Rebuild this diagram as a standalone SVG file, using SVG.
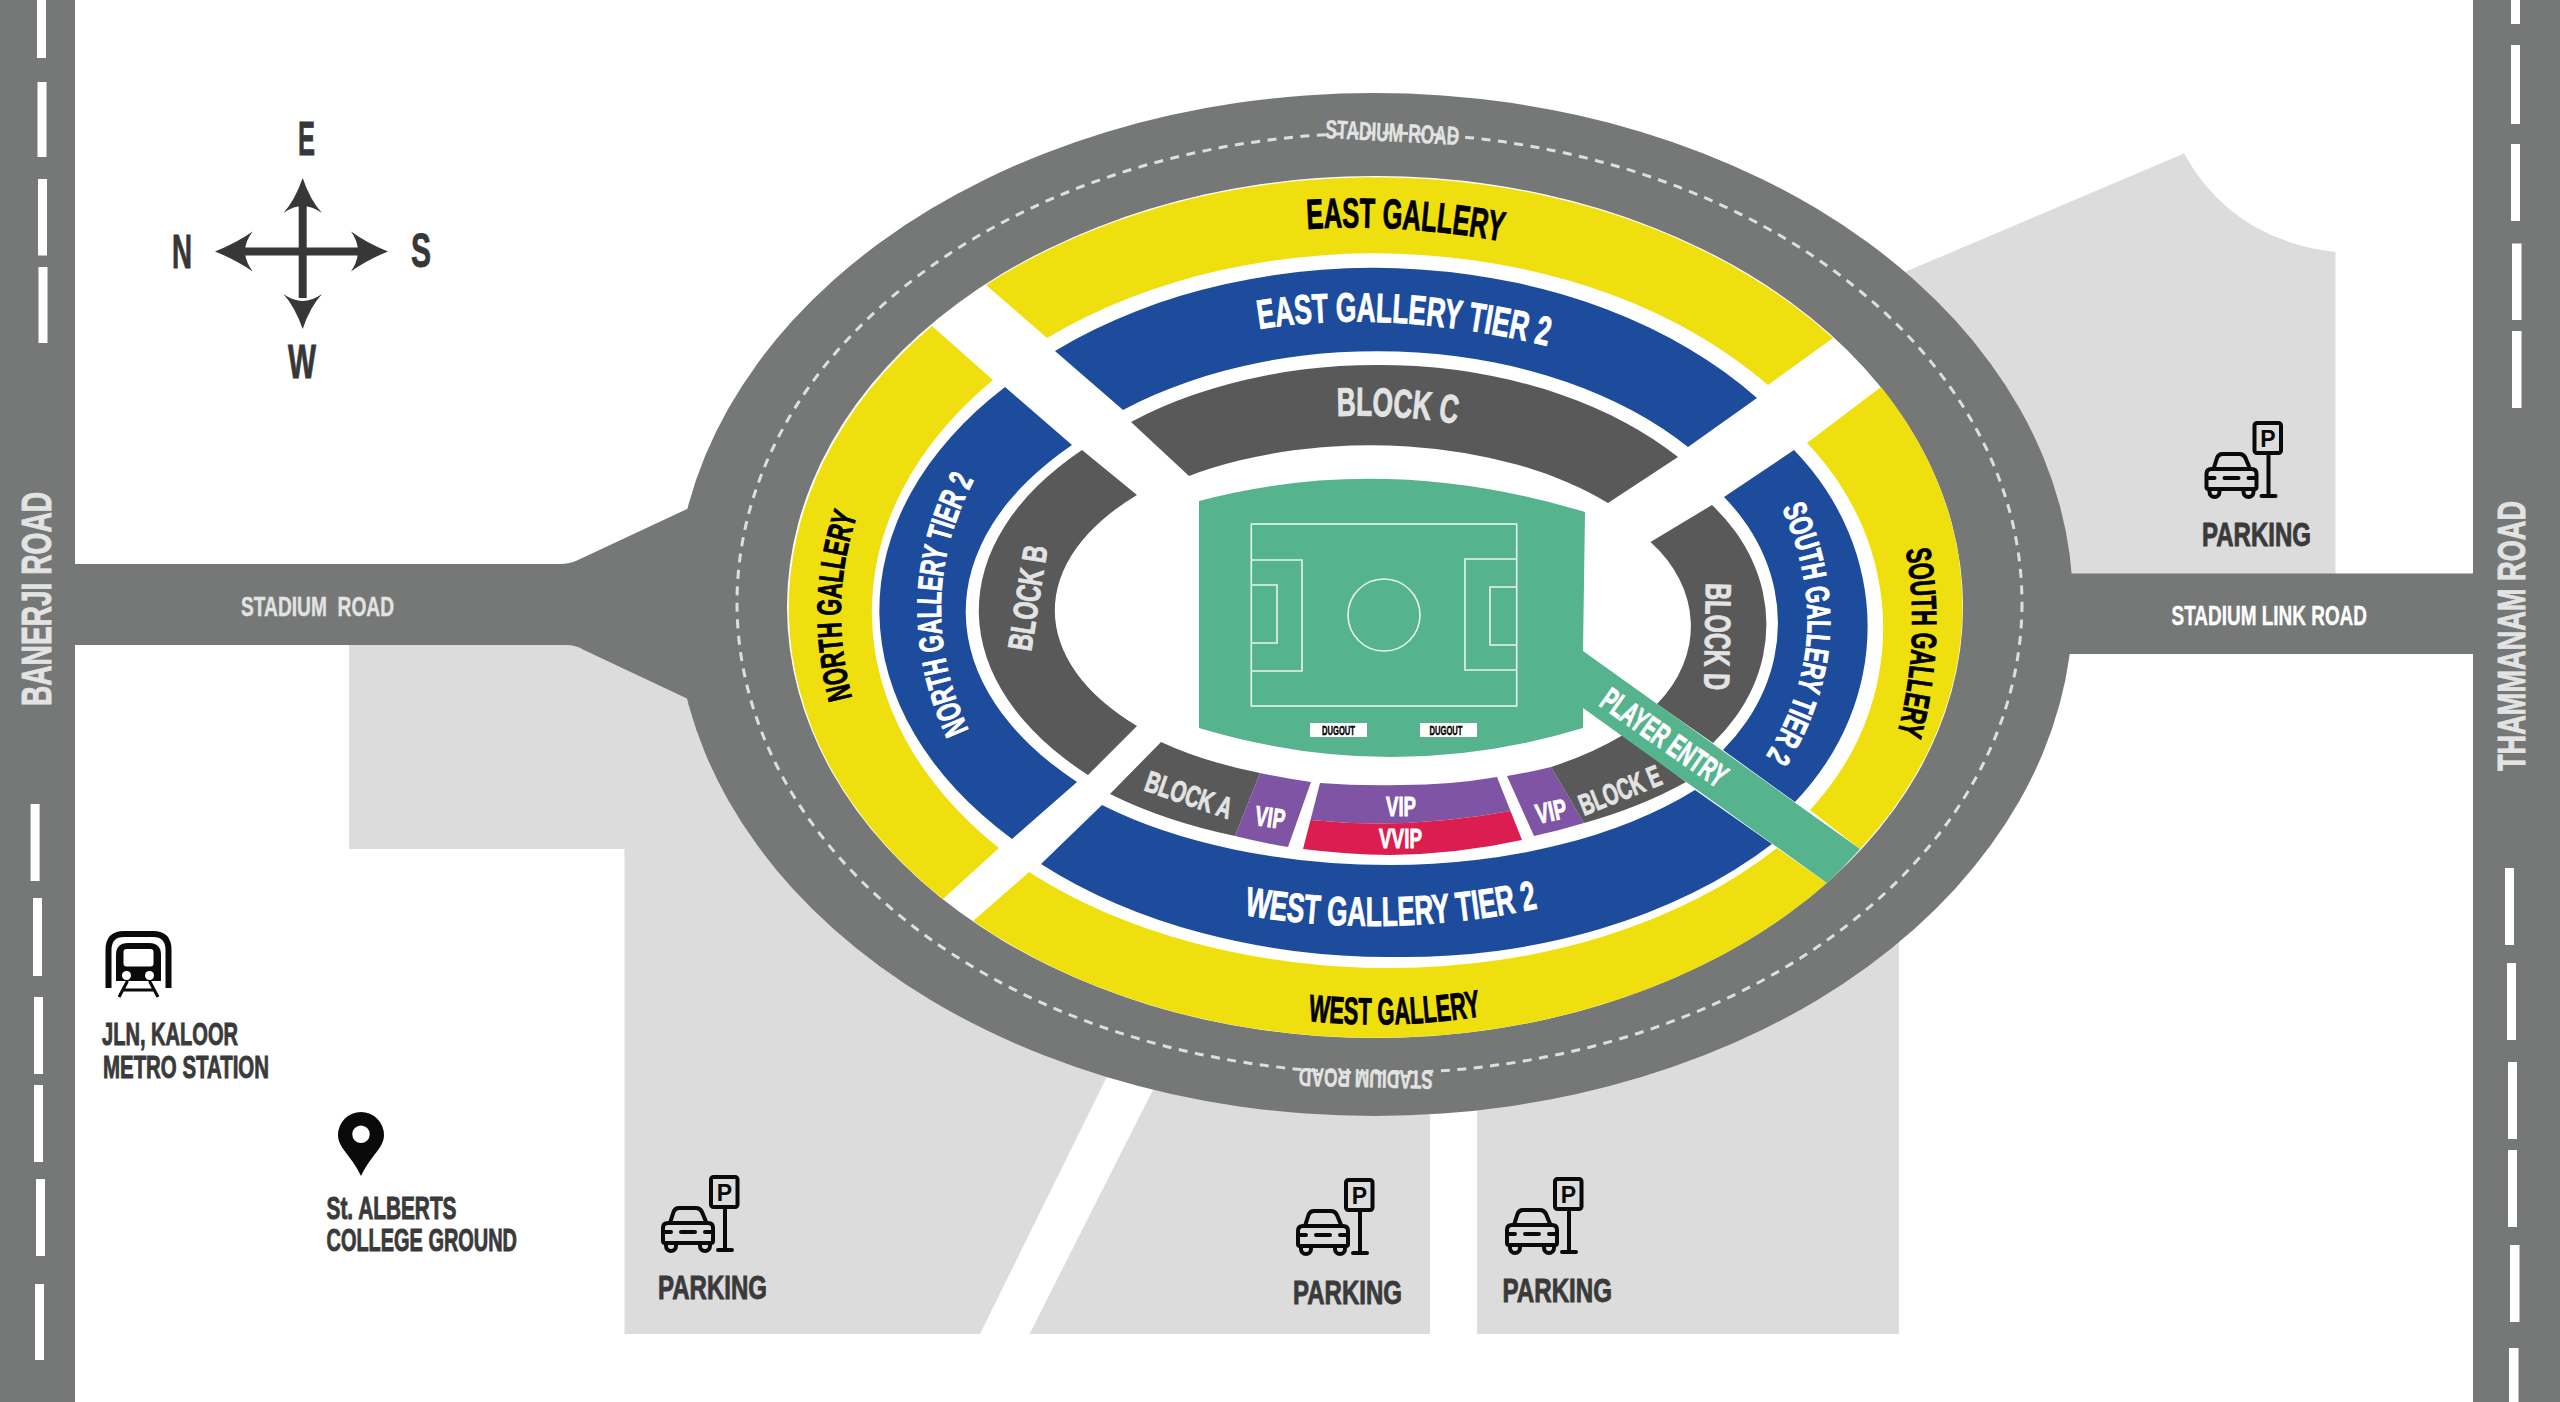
<svg xmlns="http://www.w3.org/2000/svg" width="2560" height="1402" viewBox="0 0 2560 1402">
<style>
text{font-family:"Liberation Sans Narrow","Liberation Sans",Arial,sans-serif;font-weight:700;stroke-width:.9}
.pk{fill:#dcdcdc}.rd{fill:#767877}.dash{fill:#fff}
.y{fill:#f0df0f}.b{fill:#1d4c9c}.d{fill:#585958}.g{fill:#55b38e}.v{fill:#7f54a4}.c{fill:#db1d50}
.tb{fill:#000;stroke:#000}.tw{fill:#fff;stroke:#fff}.tl{fill:#e3e3e3;stroke:#e3e3e3}.ti{fill:#3a3a3a;stroke:#3a3a3a}
.small{stroke-width:.4}
.ln{fill:none;stroke:#e8f4ee;stroke-width:1.6}
.ic{fill:none;stroke:#0a0a0a;stroke-width:4;stroke-linecap:round;stroke-linejoin:round}
</style>
<defs>
<path id="p-east" d="M1307 229Q1403 223 1505 242"/>
<path id="p-east2" d="M1259 329Q1390 308 1552 347"/>
<path id="p-c" d="M1337 416Q1397 414 1457 424"/>
<path id="p-west" d="M1308 1021Q1395 1030 1482 1016"/>
<path id="p-west2" d="M1244 915Q1390 940 1539 908"/>
<path id="p-north" d="M853 702Q826 600 859 510"/>
<path id="p-north2" d="M970 733Q908 600 978 472"/>
<path id="p-south" d="M1905 546Q1923 640 1896 739"/>
<path id="p-south2" d="M1778 500Q1845 640 1760 765"/>
<symbol id="parking-icon" overflow="visible" width="78" height="77">
<rect class="ic" x="49" y="2" width="26.5" height="30" rx="2.5"/>
<path class="ic" d="M63 34V75M56 75H70"/>
<path class="ic" d="M8 48L11.500 37Q13 33 17 33H34Q38 33 40 37L44.500 48"/>
<path class="ic" d="M6 48H46Q51 48 51 53V66Q51 68 49 68H3Q1 68 1 66V53Q1 48 6 48Z"/>
<path class="ic" d="M4 68V71A5 5 0 0 0 14 71V68M38 68V71A5 5 0 0 0 48 71V68M2 57H9M43 57H50M19 57H33"/>
<text x="62.500" y="25.700" font-size="23" text-anchor="middle" fill="#0a0a0a">P</text>
</symbol>
</defs>
<rect width="2560" height="1402" fill="#fff"/>
<g id="parking-areas">
<polygon class="pk" points="349,645 690,645 1125,1040 980,1334 624.500,1334 624.500,849 349,849"/>
<polygon class="pk" points="1029.500,1334 1165,1066 1430,1066 1430,1334"/>
<polygon class="pk" points="1477,1334 1477,1090 1899,900 1899,1334"/>
<path class="pk" d="M1860 291L2184 153.500Q2232 240 2335.500 252V574H1900Z"/>
</g>
<g id="connectors">
<rect class="rd" x="0" y="0" width="75" height="1402"/>
<rect class="rd" x="2473" y="0" width="87" height="1402"/>
<path class="rd" d="M75 564H560Q570 564 578 560L687 509L760 600L688 699L584 650Q576 645 566 645H75Z"/>
<rect class="rd" x="1950" y="573.500" width="530" height="80.500"/>
<ellipse id="ring-road" class="rd" cx="1374" cy="604.500" rx="699" ry="511.500"/>
<ellipse id="ring-road-centreline" cx="1379.500" cy="603" rx="642.500" ry="470" fill="none" stroke="#dedede" stroke-width="3" stroke-dasharray="9 7.500"/>
<g id="road-marks-west">
<rect class="dash" x="37" y="0" width="9" height="58"/><rect class="dash" x="37.500" y="82" width="9" height="75"/><rect class="dash" x="38" y="179" width="9" height="76.500"/><rect class="dash" x="38.500" y="267" width="9" height="76"/>
<rect class="dash" x="30.600" y="804" width="9" height="77"/><rect class="dash" x="33" y="898" width="9" height="78"/><rect class="dash" x="34" y="997" width="9" height="77"/><rect class="dash" x="34" y="1085" width="9" height="77"/><rect class="dash" x="36" y="1179" width="9" height="77"/><rect class="dash" x="35" y="1284" width="9" height="76"/>
</g>
<g id="road-marks-east">
<rect class="dash" x="2511" y="0" width="9" height="24"/><rect class="dash" x="2511" y="45" width="9" height="79"/><rect class="dash" x="2511" y="144" width="9" height="77"/><rect class="dash" x="2512" y="243.500" width="9.500" height="76.500"/><rect class="dash" x="2512" y="331" width="9.500" height="77"/>
<rect class="dash" x="2505" y="868" width="9" height="77"/><rect class="dash" x="2507" y="963" width="9" height="77"/><rect class="dash" x="2508" y="1062" width="9" height="77"/><rect class="dash" x="2508" y="1150" width="9" height="77"/><rect class="dash" x="2510" y="1245" width="9.500" height="77"/><rect class="dash" x="2509" y="1348" width="9.500" height="54"/>
</g>
<text class="tl" transform="translate(51 706) rotate(-90)" font-size="43" textLength="214" lengthAdjust="spacingAndGlyphs">BANERJI ROAD</text>
<text class="tl" transform="translate(2525 771) rotate(-90)" font-size="39" textLength="270" lengthAdjust="spacingAndGlyphs">THAMMANAM ROAD</text>
<text class="tl small" x="241" y="615.500" font-size="27" textLength="153" lengthAdjust="spacingAndGlyphs" xml:space="preserve">STADIUM  ROAD</text>
<text class="tw small" x="2171.500" y="625" font-size="28" textLength="195.500" lengthAdjust="spacingAndGlyphs">STADIUM LINK ROAD</text>
<text class="tl small" transform="translate(1325 138) rotate(3)" font-size="26" textLength="134" lengthAdjust="spacingAndGlyphs">STADIUM ROAD</text>
<text class="tl small" transform="translate(1433 1071) rotate(181.300)" font-size="26" textLength="134" lengthAdjust="spacingAndGlyphs">STADIUM ROAD</text>
</g>
<ellipse id="stadium-ground" cx="1375" cy="607" rx="588" ry="431" fill="#fff"/>
<g id="east-gallery"><path class="y" d="M986 285A588 431 0 0 1 1833 338L1768 385A507 357 0 0 0 1047 338Z"/><text class="tb" font-size="42"><textPath href="#p-east" textLength="196" lengthAdjust="spacingAndGlyphs">EAST GALLERY</textPath></text></g>
<g id="east-gallery-tier-2"><path class="b" d="M1055 351A490 345.500 0 0 1 1757 398L1688 447A400 258.500 0 0 0 1123 410Z"/><text class="tw" font-size="41"><textPath href="#p-east2" textLength="291" lengthAdjust="spacingAndGlyphs">EAST GALLERY TIER 2</textPath></text></g>
<g id="block-c"><path class="d" d="M1131 422A385 246 0 0 1 1678 457L1608 503A317 171 0 0 0 1189 476Z"/><text class="tl" font-size="40"><textPath href="#p-c" textLength="120" lengthAdjust="spacingAndGlyphs">BLOCK C</textPath></text></g>
<g id="north-gallery"><path class="y" d="M943 899A588 431 0 0 1 932 326L993 380A507 357 0 0 0 999 848Z"/><text class="tb" font-size="34"><textPath href="#p-north" textLength="186" startOffset="4" lengthAdjust="spacingAndGlyphs">NORTH GALLERY</textPath></text></g>
<g id="north-gallery-tier-2"><path class="b" d="M1012 839A530 345.500 0 0 1 1005 387L1072 445A450 258.500 0 0 0 1077 782Z"/><text class="tw" font-size="34"><textPath href="#p-north2" textLength="260" startOffset="3" lengthAdjust="spacingAndGlyphs">NORTH GALLERY TIER 2</textPath></text></g>
<g id="block-b"><path class="d" d="M1088 775A426 246 0 0 1 1082 450L1137 495A313 171 0 0 0 1137 726Z"/><text class="tl" transform="translate(1031 652) rotate(-81)" font-size="34" textLength="106" lengthAdjust="spacingAndGlyphs">BLOCK B</text></g>
<g id="south-gallery"><path class="y" d="M1881 387A588 431 0 0 1 1860 849L1810 810A300 278 0 0 0 1807 443Z"/><text class="tb" font-size="35"><textPath href="#p-south" textLength="186" startOffset="4" lengthAdjust="spacingAndGlyphs">SOUTH GALLERY</textPath></text></g>
<g id="south-gallery-tier-2"><path class="b" d="M1794 450A300 269 0 0 1 1795 802L1723 750A240 199.500 0 0 0 1724 497Z"/><text class="tw" font-size="33"><textPath href="#p-south2" textLength="260" startOffset="9" lengthAdjust="spacingAndGlyphs">SOUTH GALLERY TIER 2</textPath></text></g>
<g id="block-d"><path class="d" d="M1712 505A230 185 0 0 1 1713 743L1657 704A170 130 0 0 0 1650.500 542Z"/><text class="tl" transform="translate(1706 583) rotate(91)" font-size="36" textLength="107" lengthAdjust="spacingAndGlyphs">BLOCK D</text></g>
<g id="west-gallery"><path class="y" d="M973 921A588 431 0 0 0 1827 883L1777 848A507 339 0 0 1 1390 968A507 322 0 0 1 1029 872Z"/><text class="tb" font-size="38"><textPath href="#p-west" textLength="174" lengthAdjust="spacingAndGlyphs">WEST GALLERY</textPath></text></g>
<g id="west-gallery-tier-2"><path class="b" d="M1041 864A495 320 0 0 0 1390 957A495 339 0 0 0 1772 844L1695 790A405 219 0 0 1 1390 865A405 202 0 0 1 1102 805Z"/><text class="tw" font-size="41"><textPath href="#p-west2" textLength="296" lengthAdjust="spacingAndGlyphs">WEST GALLERY TIER 2</textPath></text></g>
<g id="block-a"><path class="d" d="M1161 742L1110 794A394 205 0 0 0 1235 836L1260 773A317 125 0 0 1 1161 742Z"/><text class="tl" transform="translate(1143 790) rotate(19)" font-size="30" textLength="90" lengthAdjust="spacingAndGlyphs">BLOCK A</text></g>
<g id="vip-left"><path class="v" d="M1260 773L1235 836A394 205 0 0 0 1288 847L1311 782A317 125 0 0 1 1260 773Z"/><text class="tw" transform="translate(1254 825) rotate(8)" font-size="28" textLength="30" lengthAdjust="spacingAndGlyphs">VIP</text></g>
<g id="vip-centre"><path class="v" d="M1320 783L1310.500 820Q1408 830 1510.500 811L1497 777A317 173 0 0 1 1400 785A317 125 0 0 1 1320 783Z"/><text class="tw" x="1386" y="816" font-size="28" textLength="30" lengthAdjust="spacingAndGlyphs">VIP</text></g>
<g id="vvip"><path class="c" d="M1310.500 820L1303 849A394 205 0 0 0 1390 855A394 225 0 0 0 1522 840L1510.500 811Q1408 830 1310.500 820Z"/><text class="tw" x="1379" y="848" font-size="28" textLength="43" lengthAdjust="spacingAndGlyphs">VVIP</text></g>
<g id="vip-right"><path class="v" d="M1507 776L1534 836A394 225 0 0 0 1584 823L1551 767A317 173 0 0 1 1507 776Z"/><text class="tw" transform="translate(1538 824) rotate(-12)" font-size="28" textLength="31" lengthAdjust="spacingAndGlyphs">VIP</text></g>
<g id="block-e"><path class="d" d="M1551 767L1584 823A394 225 0 0 0 1686 782L1623 735A317 173 0 0 1 1551 767Z"/><text class="tl" transform="translate(1584 816) rotate(-22)" font-size="30" textLength="86" lengthAdjust="spacingAndGlyphs">BLOCK E</text></g>
<g id="pitch">
<path class="g" d="M1199 501Q1385 451.500 1585 512L1583 651L1860 849A588 431 0 0 1 1827 883L1583 708V728Q1392 786 1199 728Z"/>
<rect class="ln" x="1251.300" y="524" width="265.400" height="182"/>
<path class="ln" d="M1251.300 560H1302V671H1251.300M1251.300 585H1277V643H1251.300M1516.700 559H1465V670H1516.700M1516.700 587H1490V645H1516.700"/>
<circle class="ln" cx="1384" cy="615" r="36"/>
<rect class="dash" x="1310" y="723" width="57" height="14"/><rect class="dash" x="1420" y="723" width="57" height="14"/>
<text class="tb small" x="1322" y="735" font-size="13.500" textLength="33" lengthAdjust="spacingAndGlyphs">DUGOUT</text>
<text class="tb small" x="1429.500" y="735" font-size="13.500" textLength="33" lengthAdjust="spacingAndGlyphs">DUGOUT</text>
<text class="tw" transform="translate(1598 705) rotate(35)" font-size="33" textLength="146" lengthAdjust="spacingAndGlyphs">PLAYER ENTRY</text>
</g>
<g id="compass" fill="#373737">
<path stroke="#373737" stroke-width="8" d="M302.700 205V298M245 251.400H360"/>
<path d="M302.700 178Q310 200 322 213Q312 206 302.700 206Q293 206 283.500 213Q295 200 302.700 178Z"/>
<path d="M302.700 329Q310 307 322 294Q312 301 302.700 301Q293 301 283.500 294Q295 307 302.700 329Z"/>
<path d="M215 251.400Q236 243 252.700 231.400Q245 241 245 251.400Q245 261 252.700 271.400Q236 260 215 251.400Z"/>
<path d="M388 251.400Q367 243 351 231.400Q358 241 358 251.400Q358 261 351 271.400Q367 260 388 251.400Z"/>
<g stroke="#373737">
<text x="298" y="154.500" font-size="48" textLength="17" lengthAdjust="spacingAndGlyphs">E</text>
<text x="172" y="267.500" font-size="48" textLength="20" lengthAdjust="spacingAndGlyphs">N</text>
<text x="411" y="267" font-size="48" textLength="20" lengthAdjust="spacingAndGlyphs">S</text>
<text x="288" y="378" font-size="48" textLength="28" lengthAdjust="spacingAndGlyphs">W</text>
</g>
</g>
<g id="metro-station">
<path fill="none" stroke="#0a0a0a" stroke-width="6" d="M108.500 988V950Q108.500 934 124 934H153Q168.500 934 168.500 950V988"/>
<path fill="#0a0a0a" d="M116 955Q116 943 128 943H149Q161 943 161 955V981H116Z"/>
<rect x="123.500" y="949" width="30" height="17.500" rx="3" fill="#fff"/>
<circle cx="126.500" cy="975.500" r="4.500" fill="#fff"/><circle cx="149.500" cy="975.500" r="4.500" fill="#fff"/>
<path fill="none" stroke="#0a0a0a" stroke-width="3" d="M127.500 981L119 997M149.500 981L158 997M122 990H155"/>
<text class="ti" x="102" y="1045" font-size="31" textLength="136" lengthAdjust="spacingAndGlyphs">JLN, KALOOR</text>
<text class="ti" x="103" y="1077.500" font-size="31" textLength="166" lengthAdjust="spacingAndGlyphs">METRO STATION</text>
</g>
<g id="college-ground">
<path fill="#0a0a0a" fill-rule="evenodd" d="M361 1176C351 1155 338 1148 338 1135A23 23 0 0 1 384 1135C384 1148 371 1155 361 1176ZM361 1125.500A8.700 8.700 0 1 0 361 1143A8.700 8.700 0 1 0 361 1125.500Z"/>
<text class="ti" x="326.500" y="1218.500" font-size="31" textLength="130" lengthAdjust="spacingAndGlyphs">St. ALBERTS</text>
<text class="ti" x="326.500" y="1251" font-size="31" textLength="190.500" lengthAdjust="spacingAndGlyphs">COLLEGE GROUND</text>
</g>
<g id="parking-1"><use href="#parking-icon" x="662" y="1175"/><text class="ti" x="658" y="1298.500" font-size="33" textLength="109" lengthAdjust="spacingAndGlyphs">PARKING</text></g>
<g id="parking-2"><use href="#parking-icon" x="1297" y="1178"/><text class="ti" x="1293" y="1304" font-size="33" textLength="109" lengthAdjust="spacingAndGlyphs">PARKING</text></g>
<g id="parking-3"><use href="#parking-icon" x="1506" y="1177"/><text class="ti" x="1502.500" y="1302" font-size="33" textLength="109.500" lengthAdjust="spacingAndGlyphs">PARKING</text></g>
<g id="parking-4"><use href="#parking-icon" x="2205.500" y="421"/><text class="ti" x="2202" y="546" font-size="33" textLength="109" lengthAdjust="spacingAndGlyphs">PARKING</text></g>
</svg>
